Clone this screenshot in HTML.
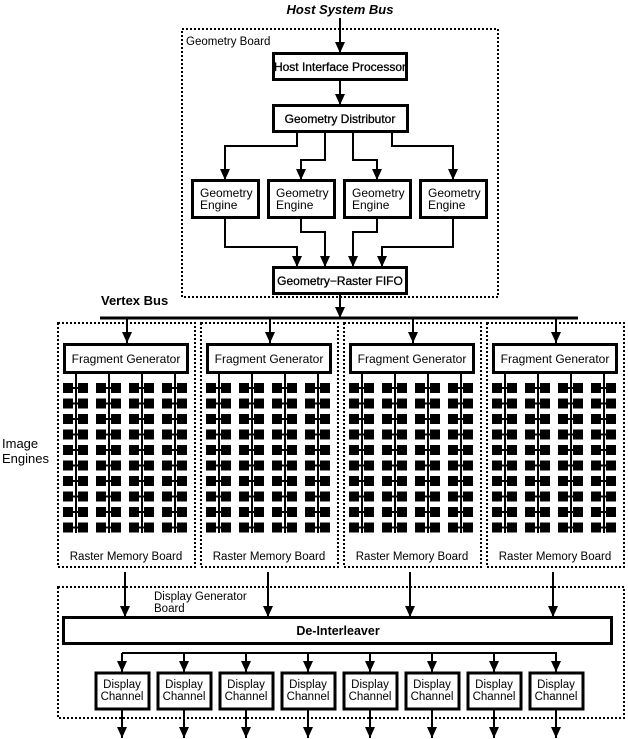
<!DOCTYPE html>
<html><head><meta charset="utf-8"><style>
html,body{margin:0;padding:0;background:#fff;}
svg{display:block;}
text{font-family:"Liberation Sans",sans-serif;fill:#000;}
</style></head><body>
<svg width="628" height="739" viewBox="0 0 628 739" xmlns="http://www.w3.org/2000/svg">
<defs>
<marker id="ah" markerUnits="userSpaceOnUse" markerWidth="11" markerHeight="10" refX="11" refY="5" orient="auto" viewBox="0 0 11 10">
<polygon points="0,0 11,5 0,10" fill="#000"/>
</marker>
<g id="col">
<line x1="0" y1="373" x2="0" y2="533" stroke="#000" stroke-width="2"/>
<g fill="#000">
<rect x="-13" y="383" width="10" height="10"/><rect x="2" y="383" width="10" height="10"/><rect x="-3" y="387" width="5" height="2"/>
<rect x="-13" y="398.5" width="10" height="10"/><rect x="2" y="398.5" width="10" height="10"/><rect x="-3" y="402.5" width="5" height="2"/>
<rect x="-13" y="414" width="10" height="10"/><rect x="2" y="414" width="10" height="10"/><rect x="-3" y="418" width="5" height="2"/>
<rect x="-13" y="429.5" width="10" height="10"/><rect x="2" y="429.5" width="10" height="10"/><rect x="-3" y="433.5" width="5" height="2"/>
<rect x="-13" y="445" width="10" height="10"/><rect x="2" y="445" width="10" height="10"/><rect x="-3" y="449" width="5" height="2"/>
<rect x="-13" y="460.5" width="10" height="10"/><rect x="2" y="460.5" width="10" height="10"/><rect x="-3" y="464.5" width="5" height="2"/>
<rect x="-13" y="476" width="10" height="10"/><rect x="2" y="476" width="10" height="10"/><rect x="-3" y="480" width="5" height="2"/>
<rect x="-13" y="491.5" width="10" height="10"/><rect x="2" y="491.5" width="10" height="10"/><rect x="-3" y="495.5" width="5" height="2"/>
<rect x="-13" y="507" width="10" height="10"/><rect x="2" y="507" width="10" height="10"/><rect x="-3" y="511" width="5" height="2"/>
<rect x="-13" y="522.5" width="10" height="10"/><rect x="2" y="522.5" width="10" height="10"/><rect x="-3" y="526.5" width="5" height="2"/>
</g>
</g>
<g id="board">
<rect x="58" y="323" width="137" height="244" fill="none" stroke="#000" stroke-width="2" stroke-dasharray="2,2"/>
<line x1="127" y1="318" x2="127" y2="343" stroke="#000" stroke-width="2" marker-end="url(#ah)"/>
<rect x="64.5" y="344.5" width="123" height="28" fill="#fff" stroke="#000" stroke-width="3"/>
<text x="126" y="363" font-size="12" text-anchor="middle">Fragment Generator</text>
<use href="#col" x="76"/><use href="#col" x="109"/><use href="#col" x="142"/><use href="#col" x="175"/>
<text x="126" y="560" font-size="11.5" text-anchor="middle">Raster Memory Board</text>
</g>
<g id="dc">
<line x1="0" y1="653" x2="0" y2="672" stroke="#000" stroke-width="2" marker-end="url(#ah)"/>
<rect x="-26" y="673" width="53" height="36" fill="#fff" stroke="#000" stroke-width="3"/>
<text x="0" y="688" font-size="11.5" text-anchor="middle">Display</text>
<text x="0" y="700" font-size="11.5" text-anchor="middle">Channel</text>
<line x1="0" y1="710" x2="0" y2="738" stroke="#000" stroke-width="2" marker-end="url(#ah)"/>
</g>
</defs>

<rect x="182" y="29" width="316" height="268" fill="none" stroke="#000" stroke-width="2" stroke-dasharray="2,2"/>
<text x="340" y="14" font-size="13" font-weight="bold" font-style="italic" text-anchor="middle">Host System Bus</text>
<text x="186" y="45" font-size="11.5">Geometry Board</text>

<g stroke="#000" stroke-width="2" fill="none">
<line x1="340" y1="18" x2="340" y2="53" marker-end="url(#ah)"/>
<line x1="340" y1="81" x2="340" y2="105" marker-end="url(#ah)"/>
<polyline points="297,132 297,146 225,146 225,180" marker-end="url(#ah)"/>
<polyline points="325,132 325,160 301,160 301,180" marker-end="url(#ah)"/>
<polyline points="353,132 353,160 377,160 377,180" marker-end="url(#ah)"/>
<polyline points="392,132 392,146 453,146 453,180" marker-end="url(#ah)"/>
<polyline points="225,218 225,247 297,247 297,267" marker-end="url(#ah)"/>
<polyline points="301,218 301,232 325,232 325,267" marker-end="url(#ah)"/>
<polyline points="377,218 377,232 353,232 353,267" marker-end="url(#ah)"/>
<polyline points="453,218 453,247 382,247 382,267" marker-end="url(#ah)"/>
<line x1="340" y1="294" x2="340" y2="318" marker-end="url(#ah)"/>
</g>
<g stroke="#000" stroke-width="3" fill="#fff">
<rect x="273.5" y="53.5" width="133" height="26"/>
<rect x="273.5" y="105.5" width="134" height="26"/>
<rect x="192.5" y="180.5" width="66" height="37"/>
<rect x="268.5" y="180.5" width="66" height="37"/>
<rect x="344.5" y="180.5" width="66" height="37"/>
<rect x="420.5" y="180.5" width="66" height="37"/>
<rect x="273.5" y="267.5" width="133" height="26"/>
</g>
<text x="340" y="71" font-size="12" text-anchor="middle" stroke="#000" stroke-width="0.3">Host Interface Processor</text>
<text x="340" y="123" font-size="12" text-anchor="middle" stroke="#000" stroke-width="0.3">Geometry Distributor</text>
<g font-size="12">
<text x="200" y="197">Geometry</text><text x="200" y="209">Engine</text>
<text x="276" y="197">Geometry</text><text x="276" y="209">Engine</text>
<text x="352" y="197">Geometry</text><text x="352" y="209">Engine</text>
<text x="428" y="197">Geometry</text><text x="428" y="209">Engine</text>
</g>
<text x="340" y="285" font-size="12" text-anchor="middle" stroke="#000" stroke-width="0.3">Geometry−Raster FIFO</text>

<text x="101" y="305" font-size="13" font-weight="bold">Vertex Bus</text>
<line x1="100" y1="318" x2="578" y2="318" stroke="#000" stroke-width="3"/>

<use href="#board" x="0"/>
<use href="#board" x="143"/>
<use href="#board" x="286"/>
<use href="#board" x="429"/>

<text x="2" y="448" font-size="13">Image</text>
<text x="2" y="463" font-size="13">Engines</text>

<rect x="58" y="587" width="566" height="131" fill="none" stroke="#000" stroke-width="2" stroke-dasharray="2,2"/>
<text x="154" y="600" font-size="11.5">Display Generator</text>
<text x="154" y="612" font-size="11.5">Board</text>
<g stroke="#000" stroke-width="2">
<line x1="125" y1="572" x2="125" y2="617" marker-end="url(#ah)"/>
<line x1="268" y1="572" x2="268" y2="617" marker-end="url(#ah)"/>
<line x1="410" y1="572" x2="410" y2="617" marker-end="url(#ah)"/>
<line x1="553" y1="572" x2="553" y2="617" marker-end="url(#ah)"/>
</g>
<rect x="63.5" y="617.5" width="548" height="26" fill="#fff" stroke="#000" stroke-width="3"/>
<text x="338" y="635" font-size="12.5" font-weight="bold" text-anchor="middle">De-Interleaver</text>
<line x1="122" y1="653" x2="557" y2="653" stroke="#000" stroke-width="2"/>
<use href="#dc" x="122"/><use href="#dc" x="184"/><use href="#dc" x="246"/><use href="#dc" x="308"/>
<use href="#dc" x="370"/><use href="#dc" x="432"/><use href="#dc" x="494"/><use href="#dc" x="556"/>
</svg>
</body></html>
